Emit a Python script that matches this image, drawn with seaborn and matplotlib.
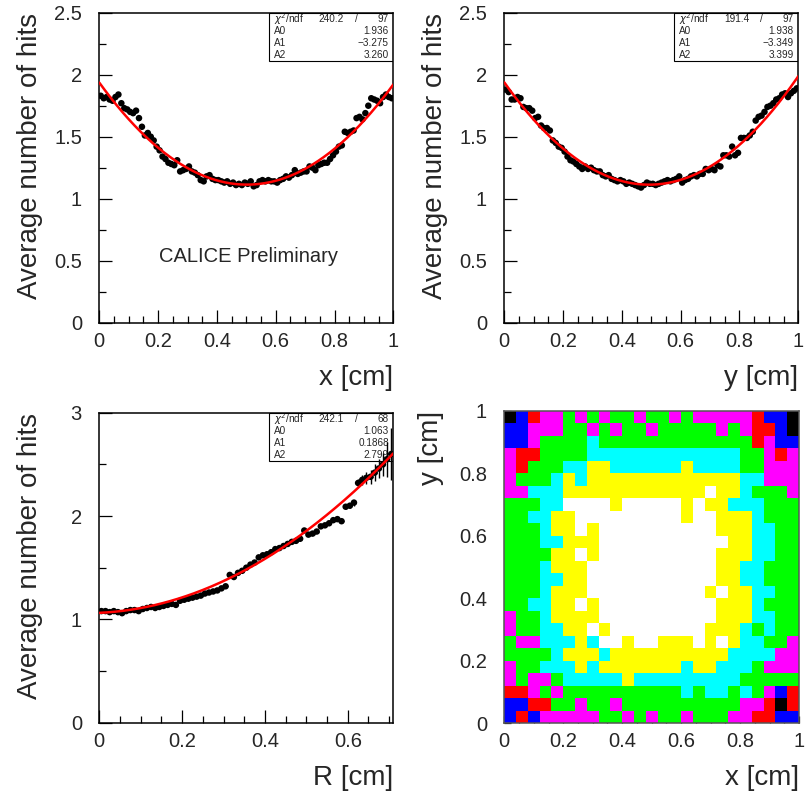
import numpy as np
import pandas as pd
import matplotlib
matplotlib.use("Agg")
import matplotlib.pyplot as plt
from matplotlib.colors import ListedColormap
from matplotlib.patches import Rectangle
from matplotlib.ticker import MultipleLocator, FixedLocator, FuncFormatter
import seaborn as sns

# ---- profile of the average number of hits along x (100 bins in [0, 1] cm)
X_PROFILE = [
    1.83, 1.81, 1.82, 1.80, 1.79, 1.82, 1.84, 1.77, 1.73, 1.72,
    1.70, 1.69, 1.71, 1.65, 1.58, 1.51, 1.53, 1.50, 1.47, 1.42,
    1.39, 1.34, 1.32, 1.29, 1.28, 1.27, 1.31, 1.22, 1.23, 1.24,
    1.26, 1.22, 1.21, 1.19, 1.15, 1.14, 1.18, 1.19, 1.16, 1.15,
    1.15, 1.14, 1.13, 1.14, 1.12, 1.13, 1.11, 1.12, 1.11, 1.13,
    1.12, 1.14, 1.10, 1.11, 1.14, 1.15, 1.14, 1.15, 1.14, 1.14,
    1.13, 1.15, 1.16, 1.18, 1.17, 1.19, 1.23, 1.20, 1.21, 1.22,
    1.22, 1.26, 1.25, 1.23, 1.27, 1.28, 1.29, 1.29, 1.32, 1.35,
    1.38, 1.42, 1.43, 1.54, 1.53, 1.54, 1.55, 1.65, 1.66, 1.64,
    1.69, 1.75, 1.81, 1.80, 1.79, 1.77, 1.82, 1.84, 1.82, 1.81,
]
X_FIT = (1.936, -3.275, 3.260)
X_STATS = ("240.2", "97", ["1.936", "\u22123.275", "3.260"])

# ---- profile along y (100 bins in [0, 1] cm)
Y_PROFILE = [
    1.88, 1.86, 1.80, 1.80, 1.82, 1.81, 1.74, 1.73, 1.73, 1.71,
    1.65, 1.66, 1.59, 1.57, 1.57, 1.55, 1.47, 1.45, 1.42, 1.41,
    1.38, 1.34, 1.31, 1.30, 1.28, 1.26, 1.24, 1.26, 1.24, 1.25,
    1.23, 1.22, 1.22, 1.19, 1.18, 1.19, 1.16, 1.15, 1.14, 1.15,
    1.14, 1.12, 1.13, 1.12, 1.11, 1.10, 1.09, 1.11, 1.13, 1.12,
    1.12, 1.11, 1.12, 1.13, 1.14, 1.15, 1.14, 1.15, 1.16, 1.18,
    1.13, 1.15, 1.16, 1.18, 1.19, 1.18, 1.20, 1.20, 1.24, 1.23,
    1.24, 1.23, 1.27, 1.26, 1.35, 1.35, 1.34, 1.42, 1.35, 1.37,
    1.49, 1.49, 1.49, 1.51, 1.54, 1.63, 1.66, 1.67, 1.70, 1.74,
    1.75, 1.77, 1.80, 1.81, 1.84, 1.85, 1.82, 1.85, 1.87, 1.89,
]
Y_FIT = (1.938, -3.349, 3.399)
Y_STATS = ("191.4", "97", ["1.938", "\u22123.349", "3.399"])

# ---- radial profile (71 bins in [0, 0.71] cm) with its errors
R_PROFILE = [
    1.08, 1.08, 1.07, 1.08, 1.07, 1.06, 1.08, 1.09, 1.09, 1.08,
    1.10, 1.11, 1.12, 1.11, 1.12, 1.13, 1.14, 1.15, 1.14, 1.18,
    1.19, 1.20, 1.21, 1.22, 1.23, 1.25, 1.26, 1.27, 1.28, 1.30,
    1.32, 1.43, 1.41, 1.45, 1.47, 1.50, 1.53, 1.55, 1.60, 1.62,
    1.63, 1.65, 1.68, 1.69, 1.71, 1.73, 1.75, 1.76, 1.78, 1.86,
    1.82, 1.83, 1.85, 1.90, 1.91, 1.93, 1.96, 1.97, 1.95, 2.09,
    2.10, 2.13, 2.32, 2.35, 2.37, 2.38, 2.42, 2.46, 2.50, 2.55, 2.60,
]
R_ERRORS = [
    0.010, 0.010, 0.010, 0.010, 0.010, 0.010, 0.010, 0.010, 0.010, 0.010,
    0.010, 0.010, 0.010, 0.010, 0.010, 0.010, 0.010, 0.010, 0.010, 0.010,
    0.010, 0.010, 0.010, 0.010, 0.010, 0.010, 0.010, 0.010, 0.010, 0.010,
    0.010, 0.010, 0.010, 0.010, 0.010, 0.010, 0.010, 0.010, 0.010, 0.010,
    0.010, 0.010, 0.010, 0.011, 0.011, 0.011, 0.011, 0.012, 0.012, 0.012,
    0.012, 0.012, 0.013, 0.013, 0.014, 0.015, 0.016, 0.017, 0.018, 0.020,
    0.025, 0.030, 0.040, 0.050, 0.060, 0.070, 0.080, 0.090, 0.110, 0.170, 0.250,
]
R_FIT = (1.063, 0.1868, 2.799)
R_STATS = ("242.1", "68", ["1.063", "0.1868", "2.799"])

# ---- 25 x 25 map of hit multiplicity levels over the cell (top row = y near 1)
HIT_MAP = [
    "KBRMMGMGMGGMGGMGMMMMMRBBK",
    "BBMMMGGMGMGGMGGGGGMGMRRBK",
    "BBMGGGGCGGGGGGGGGGGGGRMBB",
    "MRRGGGGCCCCCCCCCCCCCGGMRM",
    "MRGGGCCYYCCCCCCYCCCCGGMMM",
    "MGGGCYCYYYYYYYYYYYYYCCMMM",
    "MMCCCYYYYYYYYYYYYWYYCGGGM",
    "GGGCCWWWWYWWWWWYWYYCCCGGG",
    "GGCCYYWWWWWWWWWYWWYYYCGGG",
    "GGGCYYWYWWWWWWWWWWYYYCCGG",
    "GGGCCYYYWWWWWWWWWWWYYCCGG",
    "GGGGYYWYWWWWWWWWWWYYYCCGG",
    "GGGCYYYWWWWWWWWWWWYYCCGGG",
    "GGGCCYYWWWWWWWWWWWYYCCGGG",
    "GGGCYYYWWWWWWWWWWYWYYCCGG",
    "GGCCYYWYWWWWWWWWWWYYYCGGG",
    "MGGCYYYYWWWWWWWWWWYYYCCGG",
    "MGGCCYYWYWWWWWWWWYYYCGCGG",
    "GMMCCCYCWWYWWYYYWYWYCCGGM",
    "GGGGCYYYCYYYYYYYYYYCCCCMM",
    "MGGCCCYCYYYYYYYCYYCCCGMMM",
    "MGMMGCCCCCYCCCCCCCCCGGGGG",
    "RRMGMGGGGGGGGGGCGCCGCGMBR",
    "BBRRGGMGGMGGGGGGGGGGMMRKR",
    "BRBMMMMMGGMGMGGMGGGMMRRBB",
]
LEVEL_CODES = "WYCGMRBK"
LEVEL_COLORS = ["#ffffff", "#ffff00", "#00ffff", "#00ff00",
                "#ff00ff", "#ff0000", "#0000ff", "#000000"]

sns.set_style("ticks")
plt.rcParams["font.family"] = ["Liberation Sans", "DejaVu Sans"]
plt.rcParams["axes.linewidth"] = 1.1

fig = plt.figure(figsize=(8.11, 7.91), dpi=100, facecolor="white")
W, H = 811.0, 791.0


def add_axes(x0, y0, x1, y1):
    return fig.add_axes([x0 / W, 1 - y1 / H, (x1 - x0) / W, (y1 - y0) / H])


fmt = FuncFormatter(lambda v, p: "%g" % round(v, 3))


def style_axes(ax, major_len=9.5, minor_len=5.0):
    for s in ax.spines.values():
        s.set_visible(True)
        s.set_color("black")
        s.set_linewidth(1.1)
    ax.tick_params(which="both", direction="in", top=False, right=False,
                   color="black", width=0.9, labelsize=14.5)
    ax.tick_params(which="major", length=major_len)
    ax.tick_params(which="minor", length=minor_len)
    ax.tick_params(axis="x", which="both", pad=6.5)
    ax.tick_params(axis="y", which="both", pad=12.5)


def stat_box(ax, chi2, ndf, values):
    ax.add_patch(Rectangle((0.577, 0.844), 0.423, 0.156, transform=ax.transAxes,
                           facecolor="white", edgecolor="black", lw=0.8, zorder=2))
    rows_y = [0.979, 0.941, 0.902, 0.863]
    kw = dict(transform=ax.transAxes, fontsize=7.2, va="center", zorder=2.5)
    ax.text(0.595, rows_y[0], r"$\chi^2$/ndf", **kw)
    ax.text(0.79, rows_y[0], chi2, ha="center", **kw)
    ax.text(0.876, rows_y[0], "/", ha="center", **kw)
    ax.text(0.985, rows_y[0], ndf, ha="right", **kw)
    for name, val, yy in zip(["A0", "A1", "A2"], values, rows_y[1:]):
        ax.text(0.595, yy, name, **kw)
        ax.text(0.985, yy, val, ha="right", **kw)


def profile_panel(ax, centers, values, fit, stats, xmax, ymax, xlabel,
                  xminor, ymajor, yminor, yerr=None, half_width=0.005):
    df = pd.DataFrame({"pos": centers, "hits": values})
    stat_box(ax, *stats)
    ax.errorbar(df["pos"], df["hits"], xerr=half_width, yerr=yerr, fmt="none",
                ecolor="black", elinewidth=1.0, capsize=0, zorder=3)
    sns.scatterplot(data=df, x="pos", y="hits", ax=ax, color="black", s=22,
                    edgecolor="none", zorder=4, legend=False)
    grid = np.linspace(0, xmax, 300)
    curve = pd.DataFrame({"pos": grid,
                          "fit": fit[0] + fit[1] * grid + fit[2] * grid ** 2})
    sns.lineplot(data=curve, x="pos", y="fit", ax=ax, color="#ff0000",
                 lw=1.8, zorder=5)
    ax.set_xlim(0, xmax)
    ax.set_ylim(0, ymax)
    ax.xaxis.set_major_locator(MultipleLocator(0.2))
    ax.xaxis.set_minor_locator(MultipleLocator(xminor))
    ax.yaxis.set_major_locator(MultipleLocator(ymajor))
    ax.yaxis.set_minor_locator(MultipleLocator(yminor))
    ax.xaxis.set_major_formatter(fmt)
    ax.yaxis.set_major_formatter(fmt)
    style_axes(ax)
    ax.set_xlabel(xlabel, fontsize=20, loc="right")
    ax.set_ylabel("Average number of hits", fontsize=20, loc="top")
    ax.xaxis.set_label_coords(1.0, -0.135)
    ax.yaxis.set_label_coords(-0.192, 1.0)


centers_100 = np.arange(len(X_PROFILE)) * 0.01 + 0.005
centers_r = np.arange(len(R_PROFILE)) * 0.01 + 0.005

ax1 = add_axes(99.3, 12.7, 393.3, 322.7)
profile_panel(ax1, centers_100, X_PROFILE, X_FIT, X_STATS, 1.0, 2.5,
              "x [cm]", 0.05, 0.5, 0.25)
ax1.text(0.506, 0.215, "CALICE Preliminary", transform=ax1.transAxes,
         ha="center", va="center", fontsize=14.5)

ax2 = add_axes(504.3, 12.7, 798.3, 322.7)
profile_panel(ax2, centers_100, Y_PROFILE, Y_FIT, Y_STATS, 1.0, 2.5,
              "y [cm]", 0.05, 0.5, 0.25)

ax3 = add_axes(99.3, 412.7, 393.3, 722.7)
profile_panel(ax3, centers_r, R_PROFILE, R_FIT, R_STATS, 0.71, 3.0,
              "R [cm]", 0.05, 1.0, 0.5, yerr=R_ERRORS)

# ---- hit map
ax4 = add_axes(504.3, 411.0, 799.0, 723.3)
levels = pd.DataFrame([[LEVEL_CODES.index(ch) for ch in row] for row in HIT_MAP])
n_rows, n_cols = levels.shape
sns.heatmap(levels, ax=ax4, cmap=ListedColormap(LEVEL_COLORS), vmin=-0.5,
            vmax=len(LEVEL_COLORS) - 0.5, cbar=False, xticklabels=False,
            yticklabels=False, linewidths=0)
ax4.set_xlim(0, n_cols)
ax4.set_ylim(n_rows, 0)
ticks = [0, 0.2, 0.4, 0.6, 0.8, 1.0]
ax4.xaxis.set_major_locator(FixedLocator([t * n_cols for t in ticks]))
ax4.xaxis.set_minor_locator(FixedLocator([t * n_cols for t in np.arange(0, 1.001, 0.05)]))
ax4.yaxis.set_major_locator(FixedLocator([(1 - t) * n_rows for t in ticks]))
ax4.yaxis.set_minor_locator(FixedLocator([(1 - t) * n_rows for t in np.arange(0, 1.001, 0.1)]))
ax4.set_xticklabels(["%g" % t for t in ticks])
ax4.set_yticklabels(["%g" % t for t in ticks], rotation=0)
style_axes(ax4, major_len=5, minor_len=3)
for s in ax4.spines.values():
    s.set_color("#555555")
    s.set_zorder(5)
ax4.set_xlabel("x [cm]", fontsize=20, loc="right")
ax4.set_ylabel("y [cm]", fontsize=20, loc="top")
ax4.xaxis.set_label_coords(1.0, -0.135)
ax4.yaxis.set_label_coords(-0.205, 1.0)

fig.savefig("out.png", dpi=100, facecolor="white")
